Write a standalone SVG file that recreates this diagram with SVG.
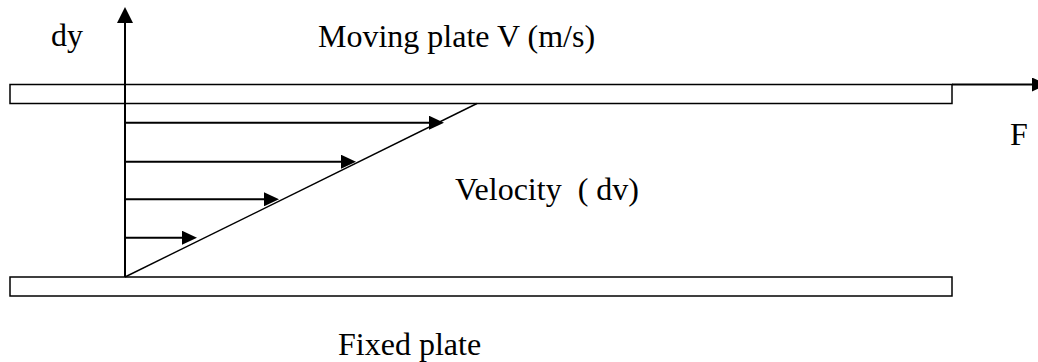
<svg xmlns="http://www.w3.org/2000/svg" width="1038" height="362" viewBox="0 0 1038 362">
  <style>
    .plate { fill: #ffffff; stroke: #000000; stroke-width: 1.5; }
    .lbl { font-family: "Liberation Serif", "Times New Roman", serif; font-size: 32px; fill: #000000; }
    .arr { stroke: #000000; stroke-width: 2; fill: none; }
    .thin { stroke: #000000; stroke-width: 1.4; fill: none; }
  </style>
  <defs>
    <marker id="head" viewBox="0 0 15 14" refX="0" refY="7" markerWidth="15" markerHeight="14" markerUnits="userSpaceOnUse" orient="auto">
      <path d="M0,0 L15,7 L0,14 Z" fill="#000000"/>
    </marker>
    <marker id="axishead" viewBox="0 0 16 16" refX="0" refY="8" markerWidth="16" markerHeight="16" markerUnits="userSpaceOnUse" orient="auto">
      <path d="M0,0 L16,8 L0,16 Z" fill="#000000"/>
    </marker>
  </defs>
  <rect width="1038" height="362" fill="#ffffff"/>

  <g id="moving-plate">
    <rect class="plate" x="10" y="84.5" width="942" height="19"/>
  </g>
  <g id="fixed-plate">
    <rect class="plate" x="10" y="277" width="942" height="19"/>
  </g>

  <g id="connectors">
    <line id="axis" class="arr" x1="125" y1="277" x2="125" y2="23" marker-end="url(#axishead)"/>
    <line id="profile" class="thin" x1="125" y1="277" x2="477" y2="103.5"/>
    <line class="arr" x1="125" y1="122.7" x2="429" y2="122.7" marker-end="url(#head)"/>
    <line class="arr" x1="125" y1="161.7" x2="341" y2="161.7" marker-end="url(#head)"/>
    <line class="arr" x1="125" y1="199.3" x2="264" y2="199.3" marker-end="url(#head)"/>
    <line class="arr" x1="125" y1="237.7" x2="182" y2="237.7" marker-end="url(#head)"/>
    <line id="force" class="arr" x1="952" y1="84.5" x2="1032" y2="84.5" marker-end="url(#head)"/>
  </g>

  <g id="label-dy"><text class="lbl" x="51" y="46">dy</text></g>
  <g id="label-moving"><text class="lbl" x="318" y="46.5">Moving plate V (m/s)</text></g>
  <g id="label-f"><text class="lbl" x="1010" y="145">F</text></g>
  <g id="label-velocity"><text class="lbl" x="455" y="200" xml:space="preserve">Velocity  ( dv)</text></g>
  <g id="label-fixed"><text class="lbl" x="338" y="355">Fixed plate</text></g>
</svg>
